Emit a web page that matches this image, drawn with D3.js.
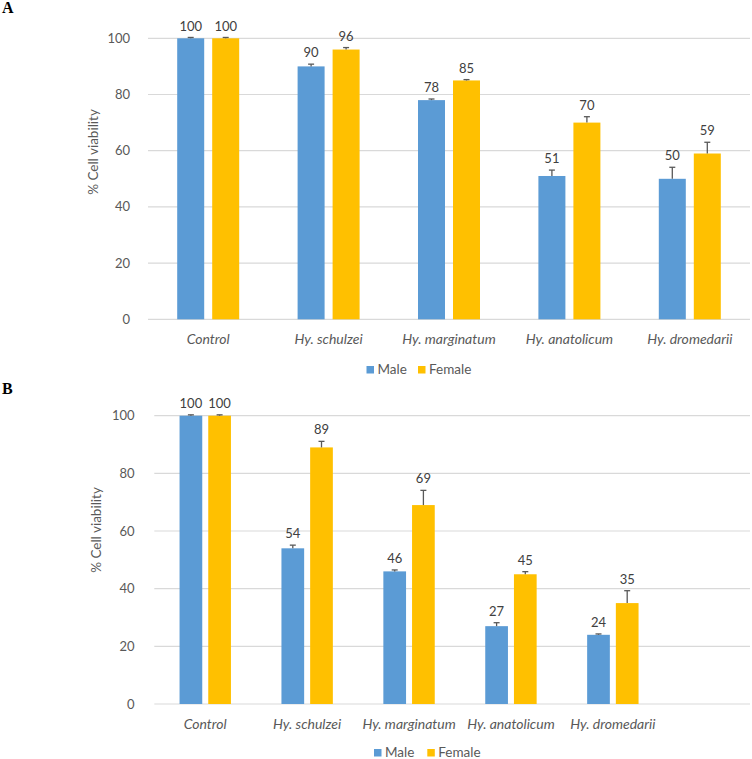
<!DOCTYPE html>
<html>
<head>
<meta charset="utf-8">
<script src="https://cdn.jsdelivr.net/npm/d3@7/dist/d3.min.js"></script>
<style>
  html, body { margin: 0; padding: 0; background: #fff; }
  svg { display: block; }
</style>
</head>
<body>
<svg id="chart" width="752" height="759"></svg>
<script>
// ---------- DATA ----------
const categories = ["Control", "Hy. schulzei", "Hy. marginatum", "Hy. anatolicum", "Hy. dromedarii"];
const seriesNames = ["Male", "Female"];
const seriesColors = ["#5B9BD5", "#FFC000"];
const yTicks = [0, 20, 40, 60, 80, 100];

// Panel A
const maleA = [100, 90, 78, 51, 50];
const femaleA = [100, 96, 85, 70, 59];
const maleErrA = [0.3, 0.8, 0.4, 2.1, 4.1];
const femaleErrA = [0.3, 0.7, 0.3, 2.1, 4.0];

// Panel B
const maleB = [100, 54, 46, 27, 24];
const femaleB = [100, 89, 69, 45, 35];
const maleErrB = [0.3, 1.1, 0.5, 1.2, 0.3];
const femaleErrB = [0.3, 2.1, 5.1, 0.9, 4.3];

const yTitle = "% Cell viability";

// ---------- DRAW ----------
const svg = d3.select("#chart");
const FONT = "Lato, 'Open Sans', 'Noto Sans', sans-serif";

function drawPanel(cfg) {
  const g = svg.append("g");
  const y = d3.scaleLinear().domain([0, 100]).range([cfg.y0, cfg.y100]);
  const x = d3.scaleBand().domain(categories).range([cfg.left, cfg.left + cfg.step * categories.length]).padding(0);
  const inner = d3.scaleBand().domain(seriesNames)
    .range([x.bandwidth() / 2 - cfg.groupW / 2, x.bandwidth() / 2 + cfg.groupW / 2])
    .paddingInner(cfg.innerPad).paddingOuter(0);

  // gridlines
  g.append("g").selectAll("line").data(yTicks).join("line")
    .attr("x1", cfg.left).attr("x2", cfg.gridRight)
    .attr("y1", d => y(d)).attr("y2", d => y(d))
    .attr("stroke", "#D9D9D9").attr("stroke-width", 1.2);

  // y tick labels
  g.append("g").selectAll("text").data(yTicks).join("text")
    .attr("x", cfg.tickX).attr("y", d => y(d)).attr("dy", "0.35em")
    .attr("text-anchor", "end")
    .attr("font-family", FONT).attr("font-size", 13).attr("fill", "#595959")
    .text(d => d);

  // y title
  g.append("text")
    .attr("transform", `translate(${cfg.titleX},${cfg.titleY}) rotate(-90)`)
    .attr("text-anchor", "middle").attr("dy", "0.35em")
    .attr("font-family", FONT).attr("font-size", 13.5).attr("fill", "#595959")
    .text(yTitle);

  const series = [
    { name: "Male", vals: cfg.male, errs: cfg.maleErr, color: seriesColors[0] },
    { name: "Female", vals: cfg.female, errs: cfg.femaleErr, color: seriesColors[1] }
  ];
  const rows = [];
  series.forEach(s => categories.forEach((c, i) => rows.push({ cat: c, name: s.name, v: s.vals[i], e: s.errs[i], color: s.color })));

  const bx = d => x(d.cat) + inner(d.name);
  const cx = d => bx(d) + inner.bandwidth() / 2;

  // bars
  g.append("g").selectAll("rect").data(rows).join("rect")
    .attr("x", bx).attr("width", inner.bandwidth())
    .attr("y", d => y(d.v)).attr("height", d => y(0) - y(d.v))
    .attr("fill", d => d.color);

  // error bars (plus only)
  const eb = g.append("g").attr("stroke", "#595959").attr("stroke-width", 1.3);
  eb.selectAll("line.v").data(rows).join("line").attr("class", "v")
    .attr("x1", cx).attr("x2", cx)
    .attr("y1", d => y(d.v)).attr("y2", d => y(d.v + d.e));
  eb.selectAll("line.c").data(rows).join("line").attr("class", "c")
    .attr("x1", d => cx(d) - 3).attr("x2", d => cx(d) + 3)
    .attr("y1", d => y(d.v + d.e)).attr("y2", d => y(d.v + d.e));

  // data labels
  g.append("g").selectAll("text").data(rows).join("text")
    .attr("x", cx).attr("y", d => y(d.v + d.e) - 11.5).attr("dy", "0.35em")
    .attr("text-anchor", "middle")
    .attr("font-family", FONT).attr("font-size", 13).attr("fill", "#404040")
    .text(d => d.v);

  // category labels
  g.append("g").selectAll("text").data(categories).join("text")
    .attr("x", d => x(d) + x.bandwidth() / 2).attr("y", cfg.catY).attr("dy", "0.35em")
    .attr("text-anchor", "middle")
    .attr("font-family", FONT).attr("font-size", 14).attr("font-style", "italic").attr("fill", "#595959")
    .text(d => d);

  // legend
  const lg = g.append("g");
  seriesNames.forEach((n, i) => {
    const lx = cfg.legendX[i];
    lg.append("rect").attr("x", lx).attr("y", cfg.legendY - 3.5).attr("width", 7.5).attr("height", 7.5).attr("fill", seriesColors[i]);
    lg.append("text").attr("x", lx + 11).attr("y", cfg.legendY).attr("dy", "0.35em")
      .attr("font-family", FONT).attr("font-size", 13.5).attr("fill", "#595959").text(n);
  });

  // panel letter
  g.append("text").attr("x", 2).attr("y", cfg.letterY)
    .attr("font-family", "'Liberation Serif', 'DejaVu Serif', serif").attr("font-weight", "bold")
    .attr("font-size", 16).attr("fill", "#000").text(cfg.letter);
}

drawPanel({
  letter: "A", letterY: 13,
  male: maleA, female: femaleA, maleErr: maleErrA, femaleErr: femaleErrA,
  y0: 319.3, y100: 38.3, left: 148, step: 120.4, gridRight: 750,
  groupW: 62, innerPad: 0.2286,
  tickX: 130, titleX: 93, titleY: 152, catY: 339,
  legendX: [366.5, 418], legendY: 369.5
});

drawPanel({
  letter: "B", letterY: 394,
  male: maleB, female: femaleB, maleErr: maleErrB, femaleErr: femaleErrB,
  y0: 704, y100: 415.7, left: 154.3, step: 101.9, gridRight: 750,
  groupW: 51.4, innerPad: 0.209,
  tickX: 134.5, titleX: 96, titleY: 530, catY: 724,
  legendX: [374, 427.3], legendY: 752.5
});
</script>
</body>
</html>
